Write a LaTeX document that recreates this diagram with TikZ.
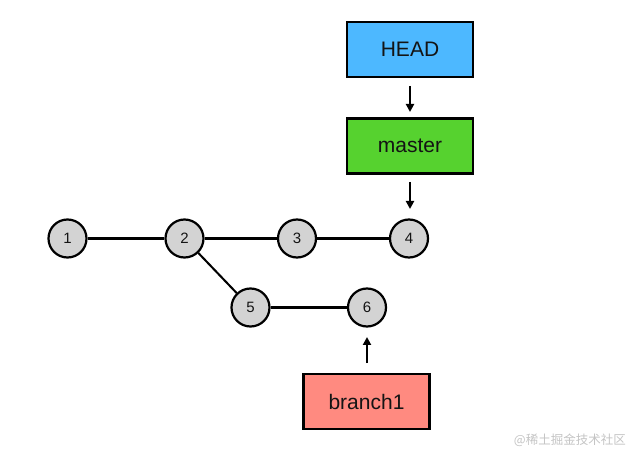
\documentclass[tikz,border=0pt]{standalone}
\usepackage{fontspec}
\setmainfont{Liberation Sans}
\newfontfamily\cjk{Noto Sans CJK SC}
\usetikzlibrary{arrows.meta}
\definecolor{headblue}{HTML}{4DB8FF}
\definecolor{mastergreen}{HTML}{56D22F}
\definecolor{branchred}{HTML}{FF8A80}
\definecolor{commitgray}{HTML}{D3D3D3}
\definecolor{wmgray}{HTML}{C4C4C4}
\definecolor{inkdark}{HTML}{141414}
\begin{document}
\begin{tikzpicture}[x=1pt,y=-1pt,
  refbox/.style={draw=black,line width=2.2pt,minimum width=126pt,minimum height=55pt,inner sep=0pt,text=inkdark,font=\fontsize{21}{24}\selectfont},
  commit/.style={circle,draw=black,line width=2.2pt,fill=commitgray,minimum size=38pt,inner sep=0pt,text=inkdark,font=\fontsize{15}{17}\selectfont},
  link/.style={line width=2.05pt},
  ptr/.style={line width=2pt,-{Triangle[length=8pt,width=8pt]}}]
\useasboundingbox (0,0) rectangle (640,454);
\node[refbox,fill=headblue] (head) at (410,49.5) {HEAD};
\node[refbox,fill=mastergreen] (master) at (410,146) {master};
\node[refbox,fill=branchred] (branch) at (366.5,401.5) {branch1};
\node[commit] (c1) at (67.5,238.5) {1};
\node[commit] (c2) at (184.5,238.5) {2};
\node[commit] (c3) at (297,238.5) {3};
\node[commit] (c4) at (409,238.5) {4};
\node[commit] (c5) at (250.5,307.5) {5};
\node[commit] (c6) at (367,307.5) {6};
\draw[link] (c1) -- (c2);
\draw[link] (c2) -- (c3);
\draw[link] (c3) -- (c4);
\draw[link] (c2) -- (c5);
\draw[link] (c5) -- (c6);
\coordinate (a1s) at (410,86);
\coordinate (a1e) at (410,112);
\coordinate (a2s) at (410,182);
\coordinate (a2e) at (410,209);
\coordinate (a3s) at (367,363);
\coordinate (a3e) at (367,337);
\draw[ptr] (a1s) -- (a1e);
\draw[ptr] (a2s) -- (a2e);
\draw[ptr] (a3s) -- (a3e);
\node[text=wmgray,font=\cjk\fontsize{12.5}{14}\selectfont,anchor=east,inner sep=0pt] (wm) at (626,440) {@稀土掘金技术社区};
\end{tikzpicture}
\end{document}
